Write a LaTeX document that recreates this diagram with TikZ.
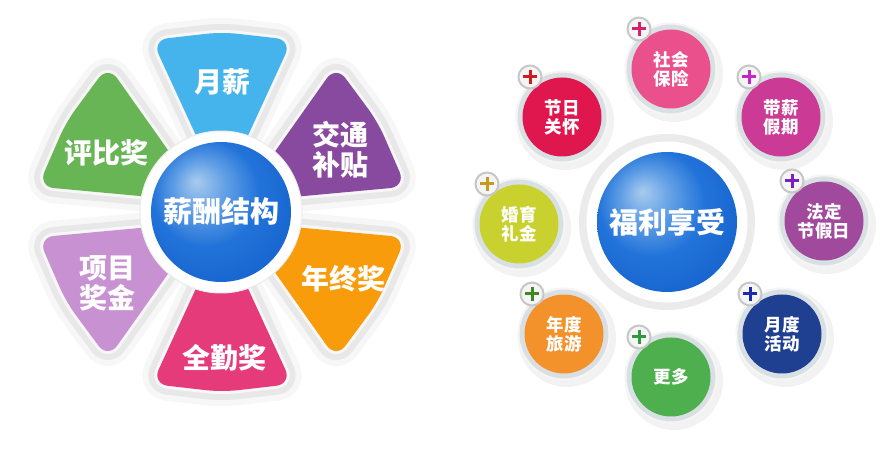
\documentclass[tikz,border=0pt]{standalone}
\usepackage{fontspec}
\newfontfamily\cjk{Noto Sans CJK SC}
\usetikzlibrary{calc}
\definecolor{sky}{HTML}{45B4EC}
\definecolor{grape}{HTML}{874A9E}
\definecolor{amber}{HTML}{F99C0B}
\definecolor{rose}{HTML}{E63B7A}
\definecolor{lilac}{HTML}{C892D2}
\definecolor{leaf}{HTML}{67B554}
\definecolor{crimson}{HTML}{E0174E}
\definecolor{pinkish}{HTML}{E9508C}
\definecolor{magent}{HTML}{CB3A94}
\definecolor{lime}{HTML}{C9D12E}
\definecolor{plum}{HTML}{A14A9D}
\definecolor{tangerine}{HTML}{F3922A}
\definecolor{grass}{HTML}{4DAF4E}
\definecolor{navy}{HTML}{1F3F90}
\definecolor{plusred}{HTML}{D01C22}
\definecolor{plusrose}{HTML}{D6246C}
\definecolor{plusmag}{HTML}{C526C9}
\definecolor{plusgold}{HTML}{C79A1E}
\definecolor{pluspurple}{HTML}{7D1FC2}
\definecolor{plusgreen}{HTML}{3F8A1F}
\definecolor{plusgrass}{HTML}{2E9B41}
\definecolor{plusblue}{HTML}{1C2BB0}
\definecolor{rimgray}{HTML}{D9E0E3}
\definecolor{hubhi}{HTML}{A9CBEF}
\definecolor{hubmid}{HTML}{62A0E5}
\definecolor{hubmain}{HTML}{2273D9}
\definecolor{hublo}{HTML}{1360CC}
\pgfdeclareradialshading{hubshade}{\pgfpoint{-9bp}{11bp}}{color(0bp)=(hubhi); color(9bp)=(hubmid); color(19bp)=(hubmain); color(36bp)=(hublo); color(50bp)=(hublo)}

\begin{document}
\begin{tikzpicture}[x=1pt, y=1pt,
  rim/.style={draw=black!9, line width=18pt, rounded corners=16pt, line join=round},
  glow/.style={draw=black!3, line width=30pt, rounded corners=16pt, line join=round},
  petal/.style={fill=#1, rounded corners=16pt},
  ptext/.style={text=white, font=\cjk\bfseries\fontsize{28}{30}\selectfont, align=center, inner sep=0pt},
  hub/.style={circle, minimum size=140pt, inner sep=0pt, shade, shading=hubshade, text=white, font=\cjk\bfseries\fontsize{29}{31}\selectfont},
  hubring/.style={circle, fill=white, inner sep=0pt, minimum size=#1},
  perk/.style={circle, minimum size=79pt, inner sep=0pt, fill=#1, text=white, align=center, font=\cjk\bfseries\fontsize{17.5}{19}\selectfont},
  perkrim/.style={circle, minimum size=91pt, inner sep=0pt, fill=rimgray, draw=black!4, line width=2pt},
  badge/.style={circle, minimum size=23pt, inner sep=0pt, fill=black!4, draw=black!22, line width=2pt},
  plus/.style={draw=#1, line width=3pt}
]
\fill[white] (0,0) rectangle (895,455);
\useasboundingbox (0,0) rectangle (895,455);

% salary flower
\foreach \ang in {90,30,-30,-90,-150,150} {
  \begin{scope}[shift={(222,243)}, rotate=\ang-90]
    \draw[glow] (0,20) -- (-70,172) -- (0,180) -- (70,172) -- cycle;
    \draw[rim] (0,20) -- (-70,172) -- (0,180) -- (70,172) -- cycle;
  \end{scope}
}
\foreach \ang/\col in {90/sky, 30/grape, -30/amber, -90/rose, -150/lilac, 150/leaf} {
  \begin{scope}[shift={(222,243)}, rotate=\ang-90]
    \draw[draw=black!3, line width=6pt, rounded corners=16pt, line join=round] (0,20) -- (-70,172) -- (0,180) -- (70,172) -- cycle;
    \fill[petal=\col] (0,20) -- (-70,172) -- (0,180) -- (70,172) -- cycle;
  \end{scope}
}
\node[ptext] (yuexin) at (222,373) {月薪};
\node[ptext] (jiaotong) at (340,305) {交通\\补贴};
\node[ptext] (nianzhong) at (343,176) {年终奖};
\node[ptext] (quanqin) at (224,97) {全勤奖};
\node[ptext] (xiangmu) at (107,172) {项目\\奖金};
\node[ptext] (pingbi) at (106,302) {评比奖};

\node[hubring=162pt, draw=black!8, line width=1pt] (ring1) at (221,243) {};
\node[hub] (xinchou) at (ring1) {薪酬结构};

% welfare
\node[hubring=176pt, fill=black!8] (ring2out) at (667,233) {};
\node[hubring=161pt] (ring2) at (667,233) {};
\node[hub] (fuli) at (ring2) {福利享受};

\foreach \nm/\px/\py/\col/\pc/\txt in {
  jieri/562/338/crimson/plusred/{节日\\关怀},
  shebao/671/386/pinkish/plusrose/{社会\\保险},
  daixin/781/338/magent/plusmag/{带薪\\假期},
  hunyu/519/231/lime/plusgold/{婚育\\礼金},
  fading/824/234/plum/pluspurple/{法定\\节假日},
  lvyou/564/121/tangerine/plusgreen/{年度\\旅游},
  gengduo/671/78/grass/plusgrass/{更多},
  huodong/782/121/navy/plusblue/{月度\\活动}} {
  \fill[black, opacity=0.05] (\px+3,\py-4) circle (49);
  \node[perkrim] (\nm-rim) at (\px,\py) {};
  \node[perk=\col] (\nm) at (\px,\py) {\txt};
  \node[badge] (\nm-badge) at ($(\nm)+(-32,40)$) {};
  \draw[plus=\pc] ($(\nm-badge)+(-7,0)$) -- ($(\nm-badge)+(7,0)$)
                  ($(\nm-badge)+(0,-7)$) -- ($(\nm-badge)+(0,7)$);
}
\end{tikzpicture}
\end{document}
